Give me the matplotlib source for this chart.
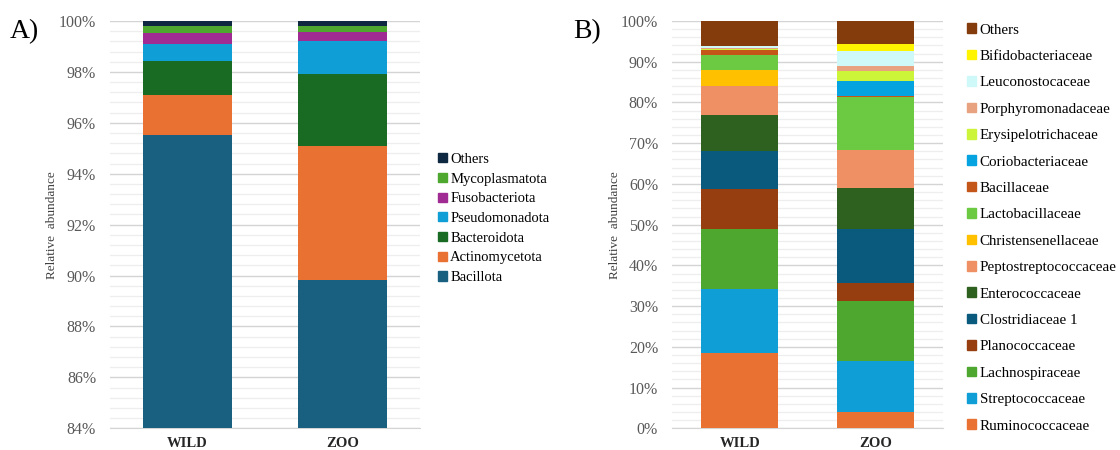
import numpy as np
import matplotlib.pyplot as plt
from matplotlib.patches import Patch
from matplotlib.ticker import MultipleLocator, FuncFormatter

plt.rcParams['font.family'] = ['Liberation Serif', 'DejaVu Serif']

groups = ["WILD", "ZOO"]

# phylum level (percent), bottom to top
phyla = ["Bacillota", "Actinomycetota", "Bacteroidota", "Pseudomonadota",
         "Fusobacteriota", "Mycoplasmatota", "Others"]
phyla_wild = [95.52, 1.57, 1.34, 0.66, 0.42, 0.30, 0.19]
phyla_zoo = [89.82, 5.27, 2.81, 1.32, 0.33, 0.25, 0.20]
phyla_colors = ["#185F80", "#E97132", "#196B24", "#0F9ED5",
                "#A02B93", "#4EA72E", "#0E2841"]

# family level (percent), bottom to top
families = ["Ruminococcaceae", "Streptococcaceae", "Lachnospiraceae",
            "Planococcaceae", "Clostridiaceae 1", "Enterococcaceae",
            "Peptostreptococcaceae", "Christensenellaceae", "Lactobacillaceae",
            "Bacillaceae", "Coriobacteriaceae", "Erysipelotrichaceae",
            "Porphyromonadaceae", "Leuconostocaceae", "Bifidobacteriaceae",
            "Others"]
fam_wild = [18.56, 15.72, 14.58, 9.82, 9.48, 8.80, 7.10, 3.93, 3.68,
            1.23, 0.10, 0.20, 0.20, 0.50, 0.0, 6.12]
fam_zoo = [3.93, 12.67, 14.65, 4.50, 13.18, 10.14, 9.18, 0.20, 12.82,
           0.32, 3.68, 2.45, 1.31, 3.68, 1.57, 5.72]
fam_colors = ["#E97132", "#0F9ED5", "#4EA72E", "#973E10", "#0A5A7D",
              "#2E6120", "#EE9063", "#FFC000", "#6BC942", "#C4561A",
              "#05A3E0", "#CCF53A", "#E8A27F", "#CFF8F8", "#FFF500",
              "#843C0C"]

W, H = 1120, 450
fig = plt.figure(figsize=(W / 100, H / 100), dpi=100)

top_px, bot_px = 21, 428.3
ax_a = fig.add_axes([110 / W, 1 - bot_px / H, 310 / W, (bot_px - top_px) / H])
ax_b = fig.add_axes([672 / W, 1 - bot_px / H, 271 / W, (bot_px - top_px) / H])


def draw(ax, wild, zoo, colors, lo, major, minor, label_x):
    x = np.arange(len(groups))
    bottom = np.zeros(2)
    for w, z, c in zip(wild, zoo, colors):
        vals = np.array([w, z])
        ax.bar(x, vals, bottom=bottom, width=0.57, color=c, zorder=3,
               linewidth=0)
        bottom = bottom + vals
    ax.set_xlim(-0.5, 1.5)
    ax.set_ylim(lo, 100)
    ax.yaxis.set_major_locator(MultipleLocator(major))
    ax.yaxis.set_minor_locator(MultipleLocator(minor))
    ax.yaxis.set_major_formatter(FuncFormatter(lambda v, p: f"{v:.0f}%"))
    ax.grid(axis="y", which="major", color="#D4D4D4", linewidth=1.0, zorder=0)
    ax.grid(axis="y", which="minor", color="#EEEEEE", linewidth=0.9, zorder=0)
    for s in ["top", "right", "left"]:
        ax.spines[s].set_visible(False)
    ax.spines["bottom"].set_color("#D4D4D4")
    ax.tick_params(axis="y", which="both", length=0, labelsize=11.5,
                   labelcolor="#595959", pad=10)
    ax.tick_params(axis="x", length=0, pad=6)
    ax.set_xticks(x)
    ax.set_xticklabels(groups, fontsize=10.5, fontweight="bold",
                       color="#262626")
    ax.set_ylabel("Relative  abundance", fontsize=9.5, color="#404040")
    ax.yaxis.set_label_coords(label_x, 0.5)


draw(ax_a, phyla_wild, phyla_zoo, phyla_colors, 84, 2, 0.4, -0.168)
draw(ax_b, fam_wild, fam_zoo, fam_colors, 0, 10, 2, -0.188)

# legends list the top segment first
h_a = [Patch(color=c) for c in phyla_colors][::-1]
fig.legend(h_a, phyla[::-1], loc="center left",
           bbox_to_anchor=(432 / W, 1 - 218.5 / H), frameon=False,
           fontsize=10.5, handlelength=0.6, handleheight=0.6,
           handletextpad=0.25, labelspacing=0.46, borderaxespad=0)

h_b = [Patch(color=c) for c in fam_colors][::-1]
fig.legend(h_b, families[::-1], loc="center left",
           bbox_to_anchor=(961 / W, 1 - 228 / H), frameon=False,
           fontsize=10.8, handlelength=0.6, handleheight=0.6,
           handletextpad=0.25, labelspacing=0.89, borderaxespad=0)

fig.text(10 / W, 1 - 32 / H, "A)", fontsize=20, va="center", ha="left")
fig.text(573 / W, 1 - 32 / H, "B)", fontsize=20, va="center", ha="left")

fig.savefig("out.png", dpi=100, facecolor="white")
